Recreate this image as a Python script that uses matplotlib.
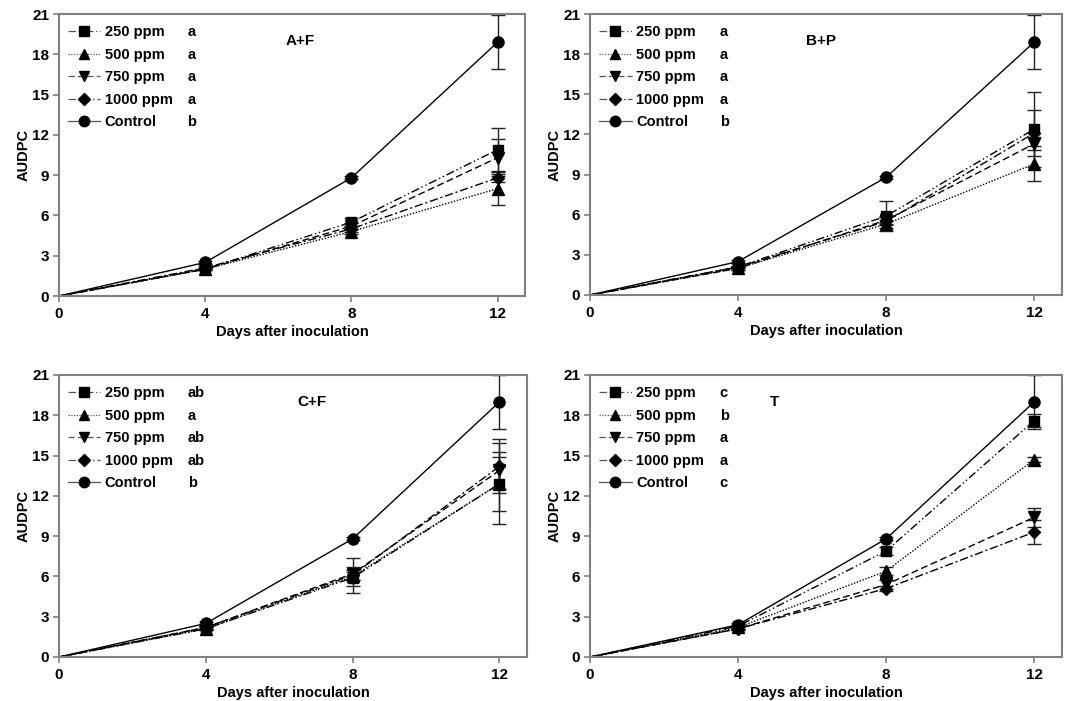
#
# AUDPC over days after inoculation for four treatments (2x2 panels)
#

import numpy as np
import matplotlib.pyplot as plt
from matplotlib.lines import Line2D

plt.rcParams['font.family'] = ['Liberation Sans', 'DejaVu Sans']
plt.rcParams['font.weight'] = 'bold'

days = [0, 4, 8, 12]
doses = ['250 ppm', '500 ppm', '750 ppm', '1000 ppm', 'Control']

# A+F
af_mean = [[0, 2.0, 5.5, 10.9],
           [0, 2.0, 4.8, 8.0],
           [0, 2.0, 5.2, 10.3],
           [0, 2.1, 5.0, 8.8],
           [0, 2.5, 8.8, 18.9]]
af_err = [[0, 0.1, 0.3, 1.6],
          [0, 0.1, 0.2, 1.2],
          [0, 0.1, 0.2, 1.4],
          [0, 0.1, 0.2, 0.3],
          [0, 0.1, 0.1, 2.0]]
af_letters = ['a', 'a', 'a', 'a', 'b']

# B+P
bp_mean = [[0, 2.1, 5.9, 12.4],
           [0, 2.0, 5.3, 9.8],
           [0, 2.0, 5.6, 11.3],
           [0, 2.1, 5.5, 12.1],
           [0, 2.5, 8.8, 18.9]]
bp_err = [[0, 0.1, 1.1, 2.8],
          [0, 0.1, 0.3, 1.3],
          [0, 0.1, 0.3, 0.5],
          [0, 0.1, 0.3, 1.7],
          [0, 0.1, 0.1, 2.0]]
bp_letters = ['a', 'a', 'a', 'a', 'b']

# C+F
cf_mean = [[0, 2.1, 5.9, 12.9],
           [0, 2.1, 6.0, 12.9],
           [0, 2.2, 6.2, 13.9],
           [0, 2.2, 6.1, 14.2],
           [0, 2.5, 8.8, 19.0]]
cf_err = [[0, 0.1, 0.6, 3.0],
          [0, 0.1, 0.3, 2.0],
          [0, 0.1, 0.5, 1.4],
          [0, 0.1, 1.3, 2.0],
          [0, 0.1, 0.1, 2.0]]
cf_letters = ['ab', 'a', 'ab', 'ab', 'b']

# T
t_mean = [[0, 2.3, 7.9, 17.6],
          [0, 2.2, 6.4, 14.7],
          [0, 2.1, 5.4, 10.4],
          [0, 2.1, 5.1, 9.3],
          [0, 2.4, 8.8, 19.0]]
t_err = [[0, 0.1, 0.3, 0.5],
         [0, 0.1, 0.3, 0.2],
         [0, 0.1, 0.3, 0.7],
         [0, 0.1, 0.2, 0.9],
         [0, 0.1, 0.1, 2.0]]
t_letters = ['c', 'b', 'a', 'a', 'c']

markers = ['s', '^', 'v', 'D', 'o']
msizes = [7.5, 8, 8, 6.5, 8]
styles = [(0, (6, 2, 1, 2, 1, 2)), (0, (1, 1.2)), (0, (5, 2.5)),
          (0, (6, 2, 1.5, 2)), '-']

panels = [
    ('A+F', af_mean, af_err, af_letters, [59, 14, 525, 296], 0.517),
    ('B+P', bp_mean, bp_err, bp_letters, [590, 14, 1062, 295], 0.49),
    ('C+F', cf_mean, cf_err, cf_letters, [59, 375, 527, 657], 0.54),
    ('T', t_mean, t_err, t_letters, [590, 375, 1062, 657], 0.39),
]

W, H = 1069, 701
fig = plt.figure(figsize=(W / 100, H / 100), dpi=100)

axes = []
for title, mean, err, letters, box, tx in panels:
    x0, y0, x1, y1 = box
    ax = fig.add_axes([x0 / W, 1 - y1 / H, (x1 - x0) / W, (y1 - y0) / H])
    handles = []
    for i in range(5):
        ax.errorbar(days, mean[i], yerr=err[i], color='black',
                    linestyle=styles[i], linewidth=1.0, marker=markers[i],
                    markersize=msizes[i], markevery=[1, 2, 3], capsize=5,
                    elinewidth=1.0, ecolor='#222222')
        handles.append(Line2D([], [], color='#555555', linestyle=styles[i],
                              linewidth=0.9, marker=markers[i],
                              markersize=msizes[i] - 0.5,
                              markerfacecolor='black', markeredgecolor='black'))
    ax.set_xlim(0, 12.75)
    ax.set_ylim(0, 21)
    ax.set_xticks([0, 4, 8, 12])
    ax.set_yticks(np.arange(0, 22, 3))
    ax.tick_params(direction='out', length=4, width=1.2, color='#808080',
                   labelsize=11, pad=3)
    ax.tick_params(axis='x', pad=4)
    for s in ax.spines.values():
        s.set_color('#808080')
        s.set_linewidth(1.5)
    ax.set_xlabel('Days after inoculation', fontsize=10.5, fontweight='bold',
                  labelpad=3)
    ax.set_ylabel('AUDPC', fontsize=10.5, fontweight='bold', labelpad=1)
    ax.text(tx, 0.905, title, transform=ax.transAxes, fontsize=11,
            fontweight='bold', ha='center', va='center')
    leg = ax.legend(handles, doses, loc='upper left',
                    bbox_to_anchor=(0.02, 0.96),
                    frameon=False, fontsize=10.5, handlelength=2.2,
                    handletextpad=0.3, labelspacing=0.58, borderpad=0,
                    borderaxespad=0)
    axes.append((ax, leg, letters))

# letters next to the legend entries
fig.canvas.draw()
for ax, leg, letters in axes:
    inv = ax.transAxes.inverted()
    for txt, let in zip(leg.get_texts(), letters):
        bb = txt.get_window_extent()
        yc = inv.transform((0, (bb.y0 + bb.y1) / 2))[1]
        ax.text(0.275, yc, let, transform=ax.transAxes, fontsize=10.5,
                fontweight='bold', va='center', ha='left')

plt.savefig('out.png', dpi=100)
